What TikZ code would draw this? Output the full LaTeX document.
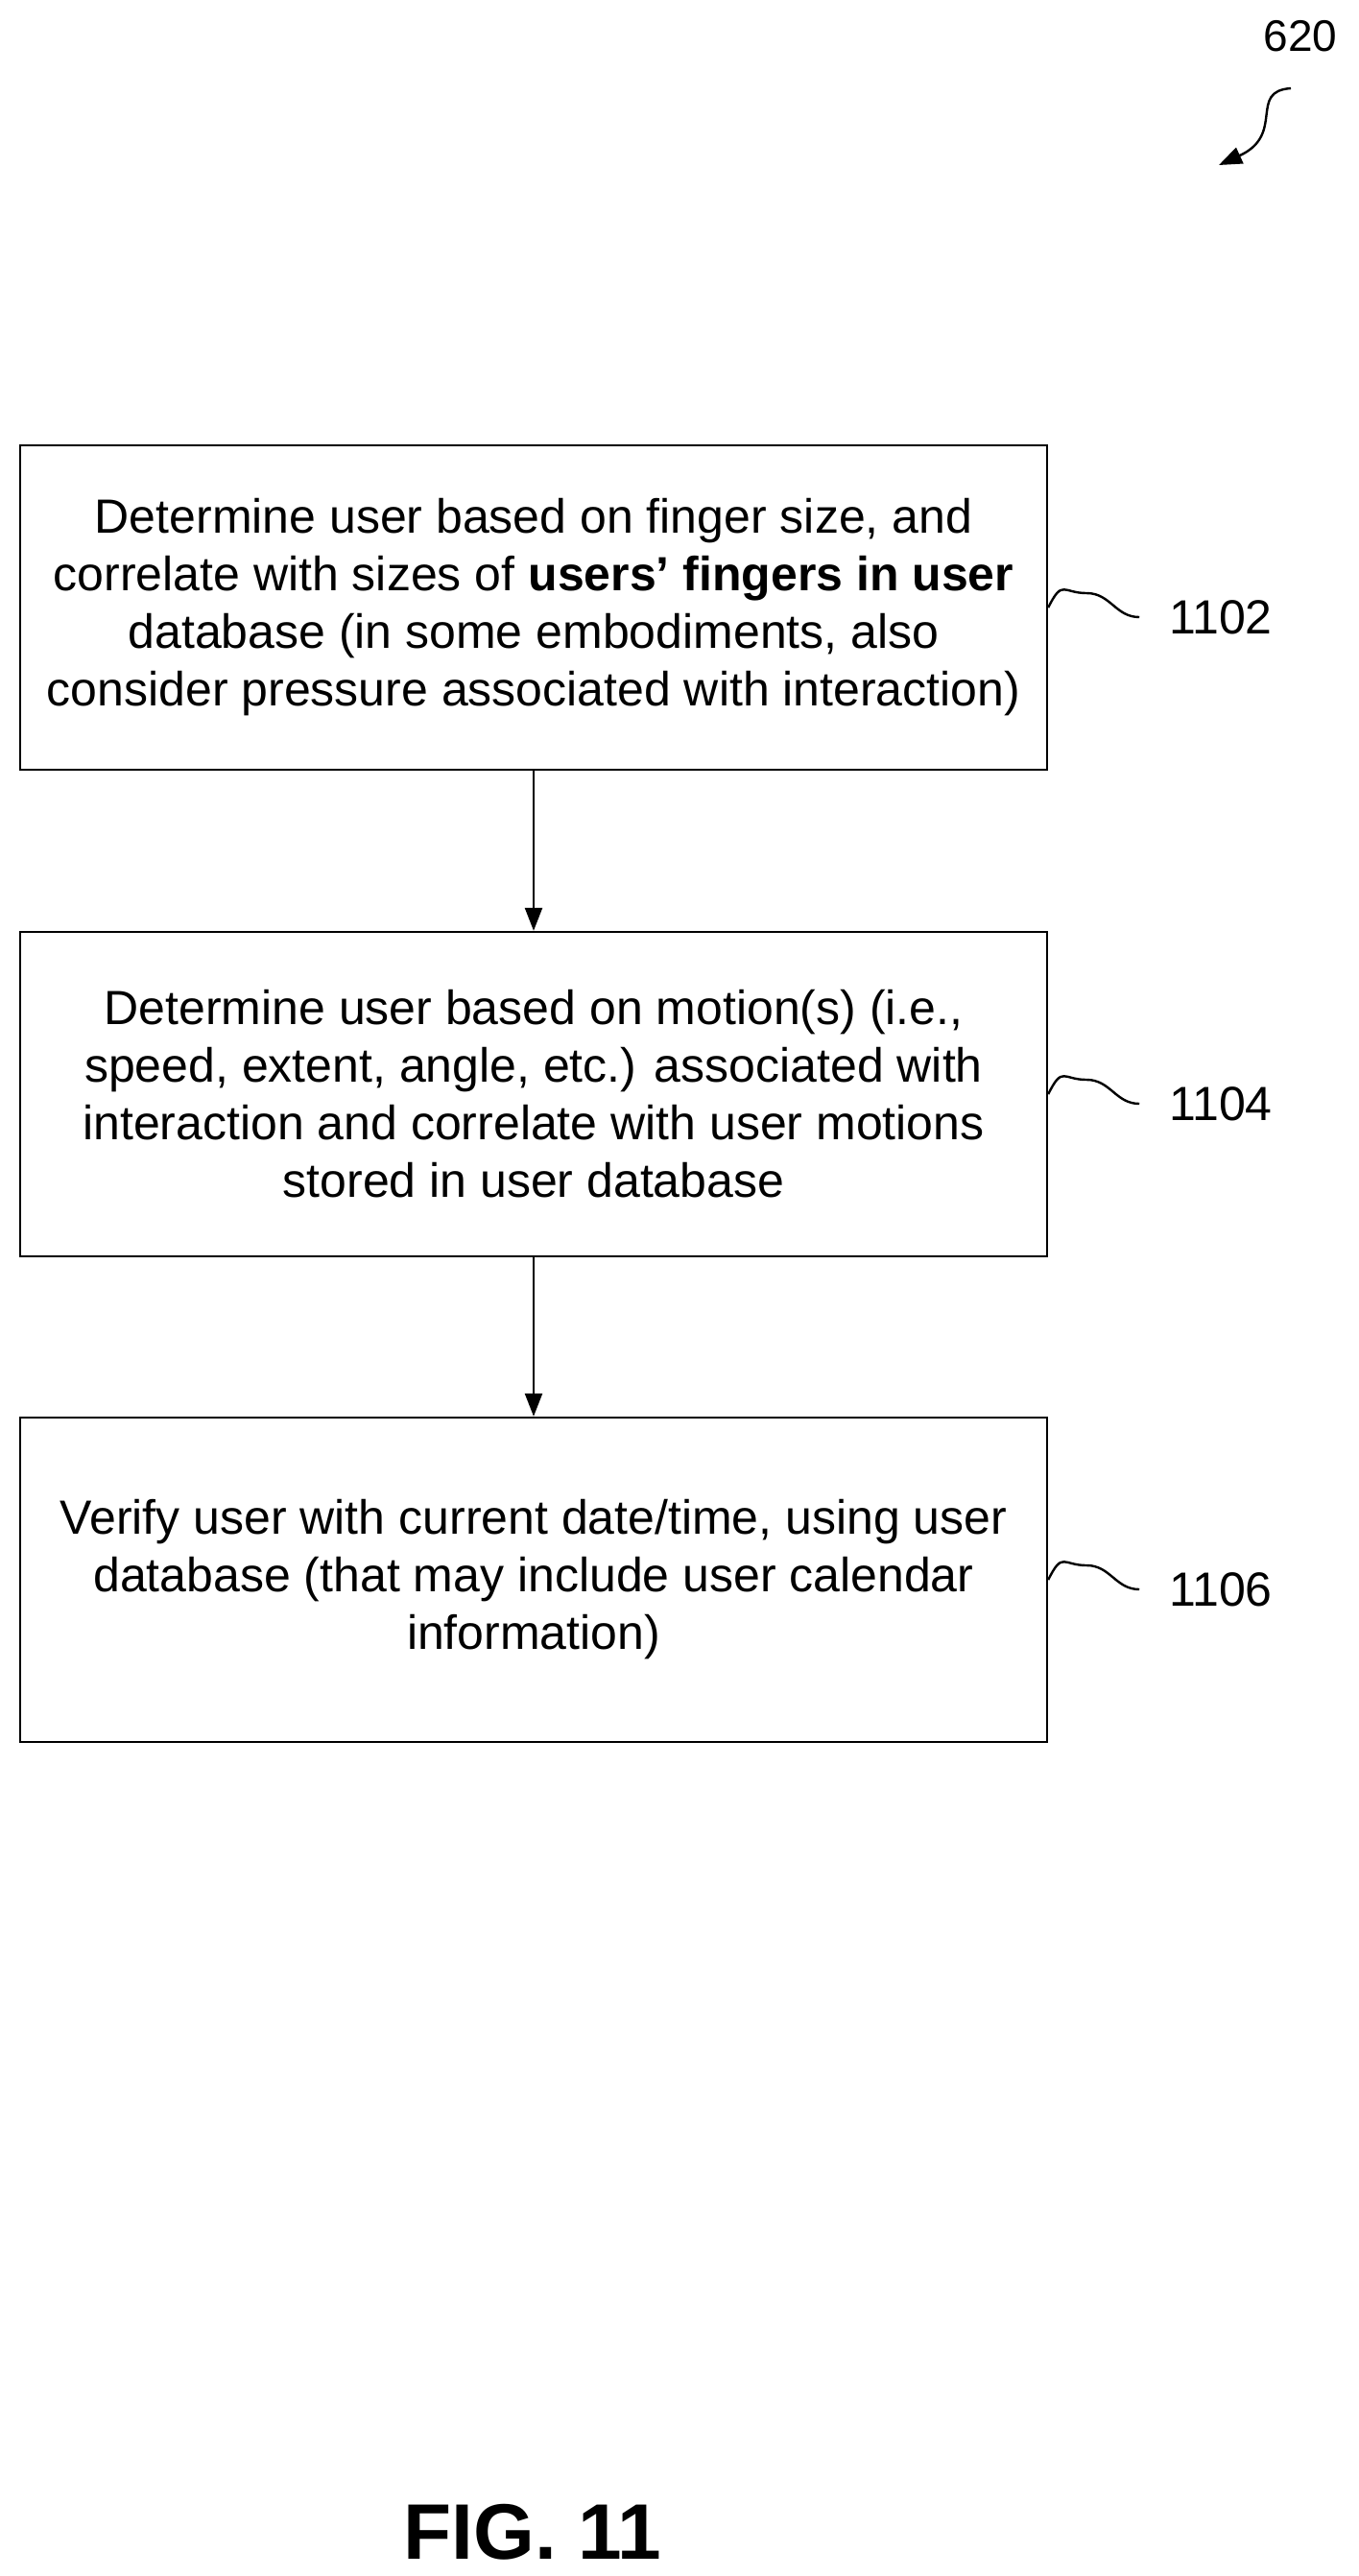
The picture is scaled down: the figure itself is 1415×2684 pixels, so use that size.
\documentclass[tikz,border=0pt]{standalone}
\usepackage{fontspec}
\setmainfont{Liberation Sans}
\usetikzlibrary{arrows.meta}
\begin{document}
\begin{tikzpicture}[x=0.5pt,y=-0.5pt,
  box/.style={draw,line width=1.2pt,minimum width=535pt,minimum height=169pt,align=center,font=\fontsize{25}{30}\selectfont,inner sep=0pt},
  lab/.style={font=\fontsize{25}{28}\selectfont,anchor=west},
  arr/.style={-{Triangle[length=12pt,width=9pt]},line width=1.2pt},
  sq/.style={line width=1.2pt}]
\useasboundingbox (0,0) rectangle (1415,2684);
\node[box] (b1) at (556,633) {Determine user based on finger size, and\\correlate with sizes of \textbf{users’ fingers in user}\\database (in some embodiments, also\\consider pressure associated with interaction)};
\node[box] (b2) at (556,1140) {Determine user based on motion(s) (i.e.,\\speed, extent, angle, etc.) associated with\\interaction and correlate with user motions\\stored in user database};
\node[box] (b3) at (556,1646) {Verify user with current date/time, using user\\database (that may include user calendar\\information)};
\draw[arr] (b1) -- (b2);
\draw[arr] (b2) -- (b3);
\foreach \b/\t in {b1/1102,b2/1104,b3/1106}{
  \coordinate (s\b) at (\b.east);
  \draw[sq] (s\b) .. controls ++(15,-30) and ++(-25,0) .. ++(40,-15) coordinate (m\b)
    .. controls ++(25,0) and ++(-25,0) .. ++(55,25) coordinate (e\b);
  \node[lab] (l\b) at ([xshift=12]e\b) {\t};
}
\node[font=\fontsize{23}{25}\selectfont] (n620) at (1355,38) {620};
\coordinate (a0) at (1345,92);
\coordinate (a1) at (1270,172);
\draw[sq,-{Triangle[length=12pt,width=9pt]}] (a0) .. controls (1300,95) and (1340,140) .. (a1);
\node[font=\bfseries\fontsize{41}{44}\selectfont] (fig) at (555,2638) {FIG. 11};
\end{tikzpicture}
\end{document}
